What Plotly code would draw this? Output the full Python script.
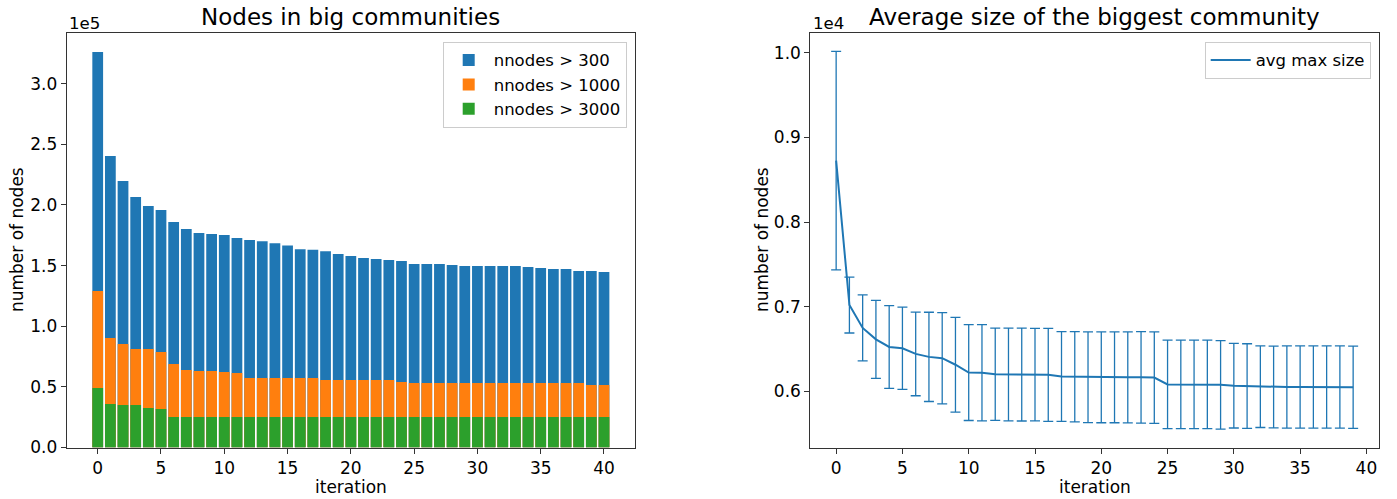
import plotly.graph_objects as go

# ---------------- data ----------------
iterations_bar = list(range(41))
nodes_gt_300 = [326000, 240300, 219700, 206500, 199100, 195800, 185900, 180100, 176800, 176000,
                175200, 172700, 171000, 170000, 168500, 166500, 163500, 163000, 161800, 159500,
                157900, 156200, 155400, 154600, 153700, 151300, 151300, 151300, 150400, 149600,
                149600, 149600, 149600, 149600, 148800, 148000, 147100, 147100, 145500, 145500,
                144700]
nodes_gt_1000 = [129000, 90300, 85300, 81200, 81200, 78700, 68800, 63900, 63100, 63100,
                 62200, 61400, 57300, 57300, 57300, 57300, 57300, 57300, 55600, 55600,
                 55600, 55600, 55600, 55600, 54000, 53200, 53200, 53200, 53200, 53200,
                 53200, 53200, 53200, 53200, 53200, 53200, 53200, 53200, 53200, 51500,
                 51500]
nodes_gt_3000 = [49100, 35900, 35000, 35000, 32600, 31700] + [25100] * 35

iterations_line = list(range(40))
avg_max_size = [8724, 7020, 6750, 6615, 6525, 6510, 6443, 6408, 6392, 6315,
                6223, 6220, 6203, 6200, 6199, 6198, 6196, 6176, 6173, 6167,
                6166, 6166, 6166, 6166, 6163, 6083, 6083, 6083, 6083, 6078,
                6068, 6063, 6056, 6052, 6052, 6052, 6052, 6052, 6052, 6049]
avg_max_err = [1290, 330, 390, 460, 488, 486, 494, 527, 538, 559,
               566, 568, 545, 547, 548, 546, 549, 530, 532, 536,
               536, 536, 538, 541, 541, 522, 522, 522, 522, 522,
               500, 500, 482, 482, 486, 486, 486, 486, 486, 486]

left_ytick_vals = [0, 50000, 100000, 150000, 200000, 250000, 300000]
left_ytick_text = ["0.0", "0.5", "1.0", "1.5", "2.0", "2.5", "3.0"]
right_ytick_vals = [6000, 7000, 8000, 9000, 10000]
right_ytick_text = ["0.6", "0.7", "0.8", "0.9", "1.0"]

# ---------------- style ----------------
W, H = 1397, 499
FONT = "DejaVu Sans"
BLUE, ORANGE, GREEN = "#1f77b4", "#ff7f0e", "#2ca02c"

def px_x(p):
    return p / W

def px_y(p):
    return 1 - p / H

ax_top, ax_bot = 32.7, 447.5
L_left, L_right = 66.7, 635.0
R_left, R_right = 810.3, 1379.0

fig = go.Figure()

for vals, name, col in [(nodes_gt_300, "nnodes > 300", BLUE),
                        (nodes_gt_1000, "nnodes > 1000", ORANGE),
                        (nodes_gt_3000, "nnodes > 3000", GREEN)]:
    fig.add_trace(go.Bar(x=iterations_bar, y=vals, name=name, width=0.85,
                         marker=dict(color=col, line=dict(width=0)),
                         xaxis="x", yaxis="y", legend="legend"))

fig.add_trace(go.Scatter(x=iterations_line, y=avg_max_size, name="avg max size",
                         mode="lines", line=dict(color=BLUE, width=2),
                         error_y=dict(type="data", array=avg_max_err, visible=True,
                                      color=BLUE, thickness=1.3, width=5),
                         xaxis="x2", yaxis="y2", legend="legend2"))

axis_common = dict(showline=True, mirror=True, linecolor="#333333", linewidth=1,
                   ticks="outside", ticklen=5, tickwidth=1, tickcolor="#333333",
                   showgrid=False, zeroline=False, automargin=False,
                   tickfont=dict(family=FONT, size=17, color="black"))

fig.update_layout(
    template="none",
    width=W, height=H,
    margin=dict(l=0, r=0, t=0, b=0, autoexpand=False),
    paper_bgcolor="white", plot_bgcolor="white",
    barmode="overlay",
    font=dict(family=FONT, color="black"),
    xaxis=dict(domain=[px_x(L_left), px_x(L_right)], range=[-2.45, 42.45],
               tickmode="linear", tick0=0, dtick=5, anchor="y", **axis_common),
    yaxis=dict(domain=[px_y(ax_bot), px_y(ax_top)], range=[0, 342000],
               tickmode="array", tickvals=left_ytick_vals, ticktext=left_ytick_text,
               anchor="x", **axis_common),
    xaxis2=dict(domain=[px_x(R_left), px_x(R_right)], range=[-1.95, 40.95],
                tickmode="linear", tick0=0, dtick=5, anchor="y2", **axis_common),
    yaxis2=dict(domain=[px_y(ax_bot), px_y(ax_top)], range=[5338, 10235],
                tickmode="array", tickvals=right_ytick_vals, ticktext=right_ytick_text,
                anchor="x2", **axis_common),
    legend=dict(x=px_x(626.7), y=px_y(41.7), xanchor="right", yanchor="top",
                bgcolor="rgba(255,255,255,0.8)", bordercolor="#cccccc", borderwidth=1,
                font=dict(family=FONT, size=16.5, color="black"), traceorder="normal",
                tracegroupgap=6, itemwidth=40),
    legend2=dict(x=px_x(1370.7), y=px_y(41.7), xanchor="right", yanchor="top",
                 bgcolor="rgba(255,255,255,0.8)", bordercolor="#cccccc", borderwidth=1,
                 font=dict(family=FONT, size=16.5, color="black"), itemwidth=40),
)

ann = []
# titles
ann.append(dict(text="Nodes in big communities", x=px_x((L_left + L_right) / 2), y=px_y(17),
                xanchor="center", yanchor="middle", font=dict(size=23)))
ann.append(dict(text="Average size of the biggest community", x=px_x((R_left + R_right) / 2),
                y=px_y(17), xanchor="center", yanchor="middle", font=dict(size=23)))
# offset texts
ann.append(dict(text="1e5", x=px_x(L_left), y=px_y(23), xanchor="left", yanchor="middle",
                font=dict(size=16.6)))
ann.append(dict(text="1e4", x=px_x(R_left + 1), y=px_y(23), xanchor="left", yanchor="middle",
                font=dict(size=16.6)))
# axis labels
ann.append(dict(text="number of nodes", x=px_x(17), y=px_y((ax_top + ax_bot) / 2),
                xanchor="center", yanchor="middle", textangle=-90, font=dict(size=17)))
ann.append(dict(text="number of nodes", x=px_x(762), y=px_y((ax_top + ax_bot) / 2),
                xanchor="center", yanchor="middle", textangle=-90, font=dict(size=17)))
ann.append(dict(text="iteration", x=px_x((L_left + L_right) / 2), y=px_y(487),
                xanchor="center", yanchor="middle", font=dict(size=17)))
ann.append(dict(text="iteration", x=px_x((R_left + R_right) / 2), y=px_y(487),
                xanchor="center", yanchor="middle", font=dict(size=17)))
for a in ann:
    a.update(xref="paper", yref="paper", showarrow=False)
    a["font"].update(family=FONT, color="black")
fig.update_layout(annotations=ann)

fig.write_html("out.html")
